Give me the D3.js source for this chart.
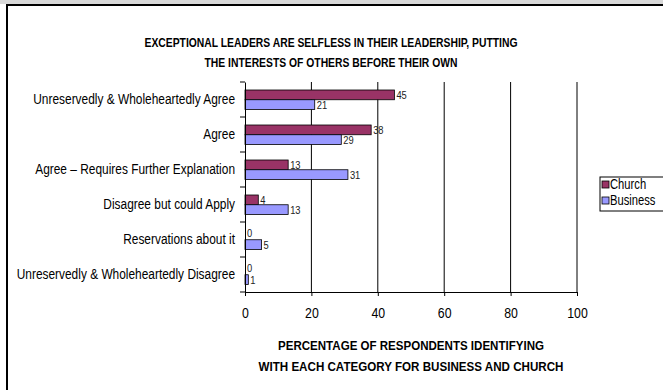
<!DOCTYPE html>
<html>
<head>
<meta charset="utf-8">
<script src="https://cdn.jsdelivr.net/npm/d3@7"></script>
<style>
  body { margin: 0; background: #fff; }
  text { font-family: "Liberation Sans", Arial, sans-serif; }
</style>
</head>
<body>
<script>
var categories = [
  "Unreservedly & Wholeheartedly Agree",
  "Agree",
  "Agree \u2013 Requires Further Explanation",
  "Disagree but could Apply",
  "Reservations about it",
  "Unreservedly & Wholeheartedly Disagree"
];
var seriesNames = ["Church", "Business"];
var church = [45, 38, 13, 4, 0, 0];
var business = [21, 29, 31, 13, 5, 1];
var xTicks = [0, 20, 40, 60, 80, 100];
var titleLines = ["EXCEPTIONAL LEADERS ARE SELFLESS IN THEIR LEADERSHIP, PUTTING",
                  "THE INTERESTS OF OTHERS BEFORE THEIR OWN"];
var xTitleLines = ["PERCENTAGE OF RESPONDENTS IDENTIFYING",
                   "WITH EACH CATEGORY FOR BUSINESS AND CHURCH"];

var colors = {Church: "#993366", Business: "#9999ff"};

var width = 663, height = 390;
var svg = d3.select("body").append("svg")
  .attr("width", width)
  .attr("height", height);

// squeeze text horizontally, the original uses a narrow face
function condense(sel, k) {
  sel.each(function() {
    var len = this.getComputedTextLength();
    d3.select(this).attr("textLength", len * k).attr("lengthAdjust", "spacingAndGlyphs");
  });
}

// outer chart border
svg.append("rect")
  .attr("x", 0).attr("y", 0).attr("width", width).attr("height", 4)
  .attr("fill", "#d8d8d8");
svg.append("rect")
  .attr("x", 7).attr("y", 5).attr("width", 700).attr("height", 420)
  .attr("fill", "#fff").attr("stroke", "#000").attr("stroke-width", 2);

var plotLeft = 245, plotRight = 577, plotTop = 82, plotBottom = 292;

var x = d3.scaleLinear().domain([0, 100]).range([plotLeft, plotRight]);
var y = d3.scaleBand().domain(categories).range([plotTop, plotBottom]);
var inner = d3.scaleBand().domain(seriesNames).range([8, 27.5]);

// gridlines
svg.selectAll(".grid")
  .data(xTicks.slice(1))
  .enter().append("line")
  .attr("x1", function(d) { return x(d); })
  .attr("x2", function(d) { return x(d); })
  .attr("y1", plotTop).attr("y2", plotBottom)
  .attr("stroke", "#000").attr("stroke-width", 1);

var rows = categories.map(function(c, i) {
  return [{cat: c, s: "Church", v: church[i]}, {cat: c, s: "Business", v: business[i]}];
});
var flat = [].concat.apply([], rows);

svg.selectAll(".bar")
  .data(flat.filter(function(d) { return d.v > 0; }))
  .enter().append("rect")
  .attr("x", x(0))
  .attr("y", function(d) { return y(d.cat) + inner(d.s); })
  .attr("width", function(d) { return x(d.v) - x(0); })
  .attr("height", inner.bandwidth())
  .attr("fill", function(d) { return colors[d.s]; })
  .attr("stroke", "#000").attr("stroke-width", 0.8);

svg.selectAll(".val")
  .data(flat)
  .enter().append("text")
  .attr("x", function(d) { return x(d.v) + 2; })
  .attr("y", function(d) { return y(d.cat) + inner(d.s) + inner.bandwidth() / 2 + (d.v === 0 && d.s === "Church" ? -1 : 1.5); })
  .attr("dominant-baseline", "middle")
  .attr("font-size", 11)
  .attr("fill", "#222")
  .text(function(d) { return d.v; })
  .call(condense, 0.85);

// axes
var xAxis = svg.append("g")
  .attr("transform", "translate(0," + plotBottom + ")")
  .call(d3.axisBottom(x).tickValues(xTicks).tickSize(4).tickPadding(12));
xAxis.select(".domain").attr("stroke", "#000");
xAxis.selectAll("text").attr("font-size", 14).attr("fill", "#000")
  .style("font-family", "Liberation Sans, Arial, sans-serif")
  .call(condense, 0.88);

var yAxis = svg.append("g")
  .attr("transform", "translate(" + plotLeft + ",0)")
  .call(d3.axisLeft(y).tickSize(0).tickPadding(10));
yAxis.select(".domain").attr("stroke", "#000");
yAxis.selectAll("text").attr("font-size", 14).attr("fill", "#000")
  .style("font-family", "Liberation Sans, Arial, sans-serif")
  .call(condense, 0.85);
svg.selectAll(".ytick")
  .data(d3.range(categories.length + 1))
  .enter().append("line")
  .attr("x1", plotLeft - 5).attr("x2", plotLeft)
  .attr("y1", function(i) { return plotTop + i * y.step(); })
  .attr("y2", function(i) { return plotTop + i * y.step(); })
  .attr("stroke", "#000");

// titles
var titleW = [373, 253];
svg.selectAll(".title")
  .data(titleLines)
  .enter().append("text")
  .attr("x", 331)
  .attr("y", function(d, i) { return 47 + i * 20; })
  .attr("text-anchor", "middle")
  .attr("font-size", 13).attr("font-weight", "bold")
  .attr("textLength", function(d, i) { return titleW[i]; })
  .attr("lengthAdjust", "spacingAndGlyphs")
  .text(function(d) { return d; });

var xTitleW = [266, 305];
svg.selectAll(".xtitle")
  .data(xTitleLines)
  .enter().append("text")
  .attr("x", 411)
  .attr("y", function(d, i) { return 350 + i * 21; })
  .attr("text-anchor", "middle")
  .attr("font-size", 13).attr("font-weight", "bold")
  .attr("textLength", function(d, i) { return xTitleW[i]; })
  .attr("lengthAdjust", "spacingAndGlyphs")
  .text(function(d) { return d; });

// legend
var legend = svg.append("g").attr("transform", "translate(600,177)");
legend.append("rect")
  .attr("width", 80).attr("height", 34)
  .attr("fill", "#fff").attr("stroke", "#000").attr("stroke-width", 1);
var li = legend.selectAll(".li")
  .data(seriesNames)
  .enter().append("g")
  .attr("transform", function(d, i) { return "translate(2," + (8 + i * 16) + ")"; });
li.append("rect")
  .attr("y", -4).attr("width", 7).attr("height", 7)
  .attr("fill", function(d) { return colors[d]; })
  .attr("stroke", "#000").attr("stroke-width", 0.8);
li.append("text")
  .attr("x", 8).attr("y", 0.5)
  .attr("dominant-baseline", "middle")
  .attr("font-size", 14)
  .text(function(d) { return d; })
  .call(condense, 0.8);
</script>
</body>
</html>
